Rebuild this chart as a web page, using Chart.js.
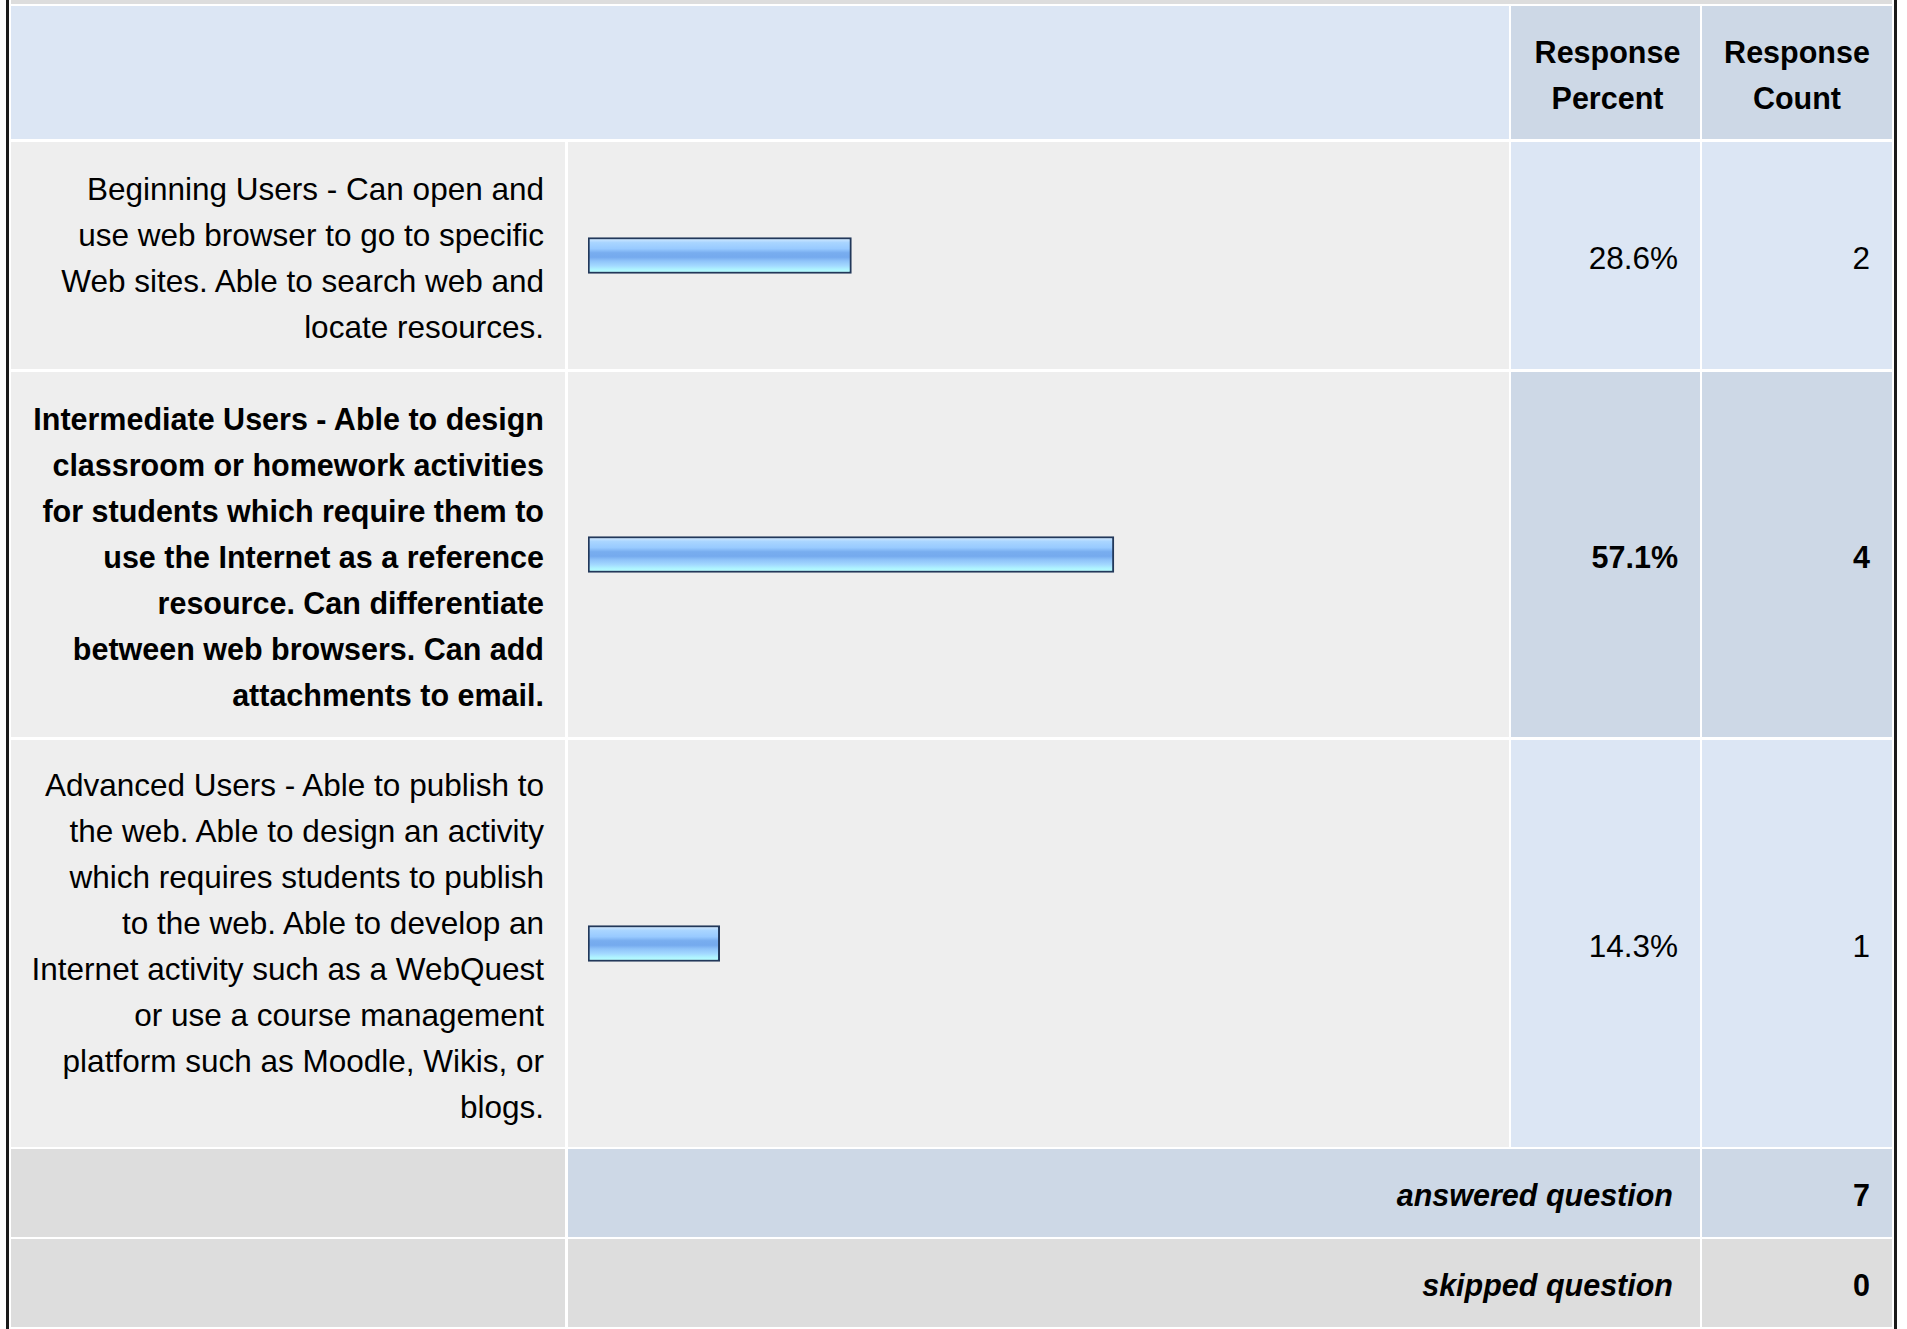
<!DOCTYPE html>
<html>
<head>
<meta charset="utf-8">
<script src="https://cdn.jsdelivr.net/npm/chart.js@4"></script>
<style>
  html, body { margin: 0; padding: 0; background: #ffffff; }
  body { width: 1907px; height: 1329px; position: relative; overflow: hidden;
         font-family: "Liberation Sans", Arial, Helvetica, sans-serif; font-size: 31.5px; color: #000; }
  .cell { position: absolute; box-sizing: border-box; display: flex; align-items: center; line-height: 46px; }
  .r { justify-content: flex-end; text-align: right; }
  .c { justify-content: center; text-align: center; }
  .txt { white-space: pre-line; position: relative; top: 2px; }
  .b { font-weight: bold; font-size: 30.5px; }
  .bi { font-weight: bold; font-style: italic; font-size: 30.5px; }
  .vline { position: absolute; background: #1a1a1a; }
</style>
</head>
<body>
<div id="root"></div>
<script>
// ---- data ----
const categories = [
  "Beginning Users - Can open and\nuse web browser to go to specific\nWeb sites. Able to search web and\nlocate resources.",
  "Intermediate Users - Able to design\nclassroom or homework activities\nfor students which require them to\nuse the Internet as a reference\nresource. Can differentiate\nbetween web browsers. Can add\nattachments to email.",
  "Advanced Users - Able to publish to\nthe web. Able to design an activity\nwhich requires students to publish\nto the web. Able to develop an\nInternet activity such as a WebQuest\nor use a course management\nplatform such as Moodle, Wikis, or\nblogs."
];
const responsePercent = [28.6, 57.1, 14.3];
const responseCount = [2, 4, 1];
const highlighted = [false, true, false];
const headerLabels = ["Response\nPercent", "Response\nCount"];
const summaryLabels = ["answered question", "skipped question"];
const summaryValues = [7, 0];

// ---- layout ----
const root = document.body;
function box(x, y, w, h, bg, cls, text, pad) {
  const d = document.createElement('div');
  d.className = 'cell ' + (cls || '');
  d.style.left = x + 'px'; d.style.top = y + 'px';
  d.style.width = w + 'px'; d.style.height = h + 'px';
  d.style.background = bg;
  if (pad) d.style.padding = pad;
  if (text !== undefined) {
    const s = document.createElement('span');
    s.className = 'txt';
    s.textContent = text;
    d.appendChild(s);
  }
  root.appendChild(d);
  return d;
}
const LIGHT = '#dce6f4', DARK = '#cdd8e6', G1 = '#eeeeee', G2 = '#dddddd';
const colL = [11, 554], colB = [568, 941], colP = [1511, 189], colC = [1702, 190];

// top strip and outer borders
box(11, 0, 1881, 4, G2);
const lb = document.createElement('div'); lb.className = 'vline';
lb.style.cssText = 'left:6px;top:0;width:3px;height:1329px;'; root.appendChild(lb);
const rb = document.createElement('div'); rb.className = 'vline';
rb.style.cssText = 'left:1894px;top:0;width:3px;height:1329px;'; root.appendChild(rb);

// header
box(11, 6, 1498, 133, LIGHT);
box(colP[0], 6, colP[1], 133, DARK, 'c b', headerLabels[0], '0 0 0 4px');
box(colC[0], 6, colC[1], 133, DARK, 'c b', headerLabels[1], '0 0 0 0');

// data rows
const rowTop = [142, 372, 740];
const rowH = [227, 365, 407];
const charts = [];
categories.forEach((cat, i) => {
  const y = rowTop[i], h = rowH[i];
  const bold = highlighted[i] ? 'b' : '';
  box(colL[0], y, colL[1], h, G1, 'r ' + bold, cat, '0 21px 0 0');
  const bc = box(colB[0], y, colB[1], h, G1, '');
  const cv = document.createElement('canvas');
  bc.appendChild(cv);
  cv.style.position = 'absolute'; cv.style.left = '0'; cv.style.top = '0';
  charts.push({ canvas: cv, w: colB[1], h: h, i: i });
  const bg = highlighted[i] ? DARK : LIGHT;
  box(colP[0], y, colP[1], h, bg, 'r ' + bold, responsePercent[i].toFixed(1) + '%', '0 22px 0 0');
  box(colC[0], y, colC[1], h, bg, 'r ' + bold, String(responseCount[i]), '0 22px 0 0');
});

// summary rows
const sumTop = [1149, 1239];
summaryLabels.forEach((lab, k) => {
  const y = sumTop[k], h = 88;
  const bg = k === 0 ? DARK : G2;
  box(colL[0], y, colL[1], h, G2);
  box(colB[0], y, colP[0] + colP[1] - colB[0], h, bg, 'r bi', lab, '0 27px 0 0');
  box(colC[0], y, colC[1], h, bg, 'r b', String(summaryValues[k]), '0 22px 0 0');
});

// ---- bars via Chart.js ----
function barGradient(context) {
  const chart = context.chart;
  if (!chart.chartArea) return '#8dc0f8';
  const yc = chart.scales.y.getPixelForValue(context.dataIndex);
  const g = chart.ctx.createLinearGradient(0, yc - 17, 0, yc + 17);
  g.addColorStop(0.00, '#d2e9ff');
  g.addColorStop(0.12, '#a9d5ff');
  g.addColorStop(0.30, '#98caff');
  g.addColorStop(0.42, '#78adef');
  g.addColorStop(0.55, '#75aaee');
  g.addColorStop(0.66, '#8fc3f9');
  g.addColorStop(0.80, '#a3d9ff');
  g.addColorStop(0.90, '#aef2ff');
  g.addColorStop(1.00, '#b6ffff');
  return g;
}
charts.forEach(c => {
  c.canvas.width = c.w; c.canvas.height = c.h;
  c.canvas.style.width = c.w + 'px'; c.canvas.style.height = c.h + 'px';
  new Chart(c.canvas, {
    type: 'bar',
    data: {
      labels: [categories[c.i]],
      datasets: [{
        data: [responsePercent[c.i]],
        backgroundColor: barGradient,
        borderColor: '#22385a',
        borderWidth: 2,
        borderSkipped: false,
        barThickness: 36
      }]
    },
    options: {
      indexAxis: 'y',
      responsive: false,
      animation: false,
      devicePixelRatio: 1,
      layout: { padding: { left: 20, right: 0, top: 0, bottom: 0 } },
      plugins: { legend: { display: false }, tooltip: { enabled: false } },
      scales: {
        x: { display: false, min: 0, max: 100 },
        y: { display: false }
      }
    }
  });
});
</script>
</body>
</html>
